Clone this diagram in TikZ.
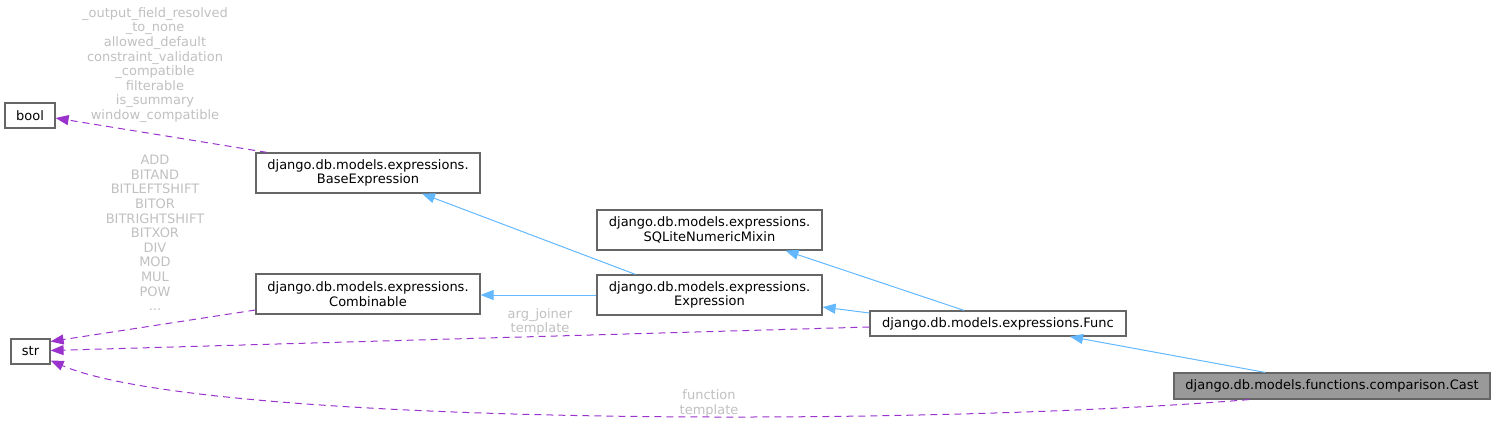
\documentclass[tikz,border=0pt]{standalone}
\usepackage{fontspec}
\setmainfont{DejaVu Sans}
\usetikzlibrary{arrows.meta}
\definecolor{boxline}{HTML}{666666}
\definecolor{castfill}{HTML}{999999}
\definecolor{inhblue}{HTML}{63B8FF}
\definecolor{deppurple}{HTML}{9A32CD}
\definecolor{lblgrey}{HTML}{C0C0C0}
\tikzset{
  cls/.style={draw=boxline, line width=1.2pt, fill=white, inner sep=0pt, align=center,
    font=\fontsize{13}{14.6}\selectfont, text=black},
  lbl/.style={inner sep=0pt, align=center, font=\fontsize{13}{14.6}\selectfont, text=lblgrey},
  inh/.style={draw=inhblue, line width=1pt, -{Triangle[length=13pt,width=10pt]}},
  dep/.style={draw=deppurple, line width=1pt, dash pattern=on 7pt off 5pt,
    -{Triangle[length=13pt,width=10pt]}},
}
\begin{document}
\begin{tikzpicture}[x=1pt,y=-1pt]
\useasboundingbox (0,0) rectangle (1495,424);
% classes
\node[cls, minimum width=50pt, minimum height=25pt] (bool) at (30,115.5) {bool};
\node[cls, minimum width=39pt, minimum height=25pt] (str) at (30.5,351.5) {str};
\node[cls, minimum width=224pt, minimum height=40pt] (base) at (368,173) {django.db.models.expressions.\\BaseExpression};
\node[cls, minimum width=224pt, minimum height=40pt] (comb) at (368,294) {django.db.models.expressions.\\Combinable};
\node[cls, minimum width=225pt, minimum height=40pt] (sqlite) at (709.5,230) {django.db.models.expressions.\\SQLiteNumericMixin};
\node[cls, minimum width=225pt, minimum height=40pt] (expr) at (709.5,295) {django.db.models.expressions.\\Expression};
\node[cls, minimum width=256pt, minimum height=25pt] (func) at (998,323.5) {django.db.models.expressions.Func};
\node[cls, fill=castfill, minimum width=316pt, minimum height=26pt] (cast) at (1332,386) {django.db.models.functions.comparison.Cast};
% labels
\node[lbl] (lbool) at (155,65) {\_output\_field\_resolved\\\_to\_none\\allowed\_default\\constraint\_validation\\\_compatible\\filterable\\is\_summary\\window\_compatible};
\node[lbl] (lstr) at (155,233) {ADD\\BITAND\\BITLEFTSHIFT\\BITOR\\BITRIGHTSHIFT\\BITXOR\\DIV\\MOD\\MUL\\POW\\...};
\node[lbl] (lfunc) at (540,322) {arg\_joiner\\template};
\node[lbl] (lcast) at (709,403.5) {function\\template};
% inheritance edges
\draw[inh] ([xshift=-74pt]expr.north) -- ([xshift=54pt]base.south);
\draw[inh] (expr.west) -- (expr.west -| comb.east);
\draw[inh] ([yshift=10.5pt]func.west) -- ([yshift=-12pt]expr.east);
\draw[inh] ([xshift=-34pt]func.north) -- ([xshift=76pt]sqlite.south);
\draw[inh] ([xshift=-67pt]cast.north) -- ([xshift=72pt]func.south);
% usage edges
\draw[dep] ([xshift=-101pt]base.north) -- ([yshift=-2.5pt]bool.east);
\draw[dep] ([yshift=-16pt]comb.west) -- ([yshift=10pt]str.east);
\draw[dep] ([yshift=-3.5pt]func.west) -- ([yshift=1pt]str.east);
\draw[dep] ([xshift=-83pt]cast.south) .. controls (900,428) and (200,425) .. ([yshift=-9pt]str.east);
\end{tikzpicture}
\end{document}
